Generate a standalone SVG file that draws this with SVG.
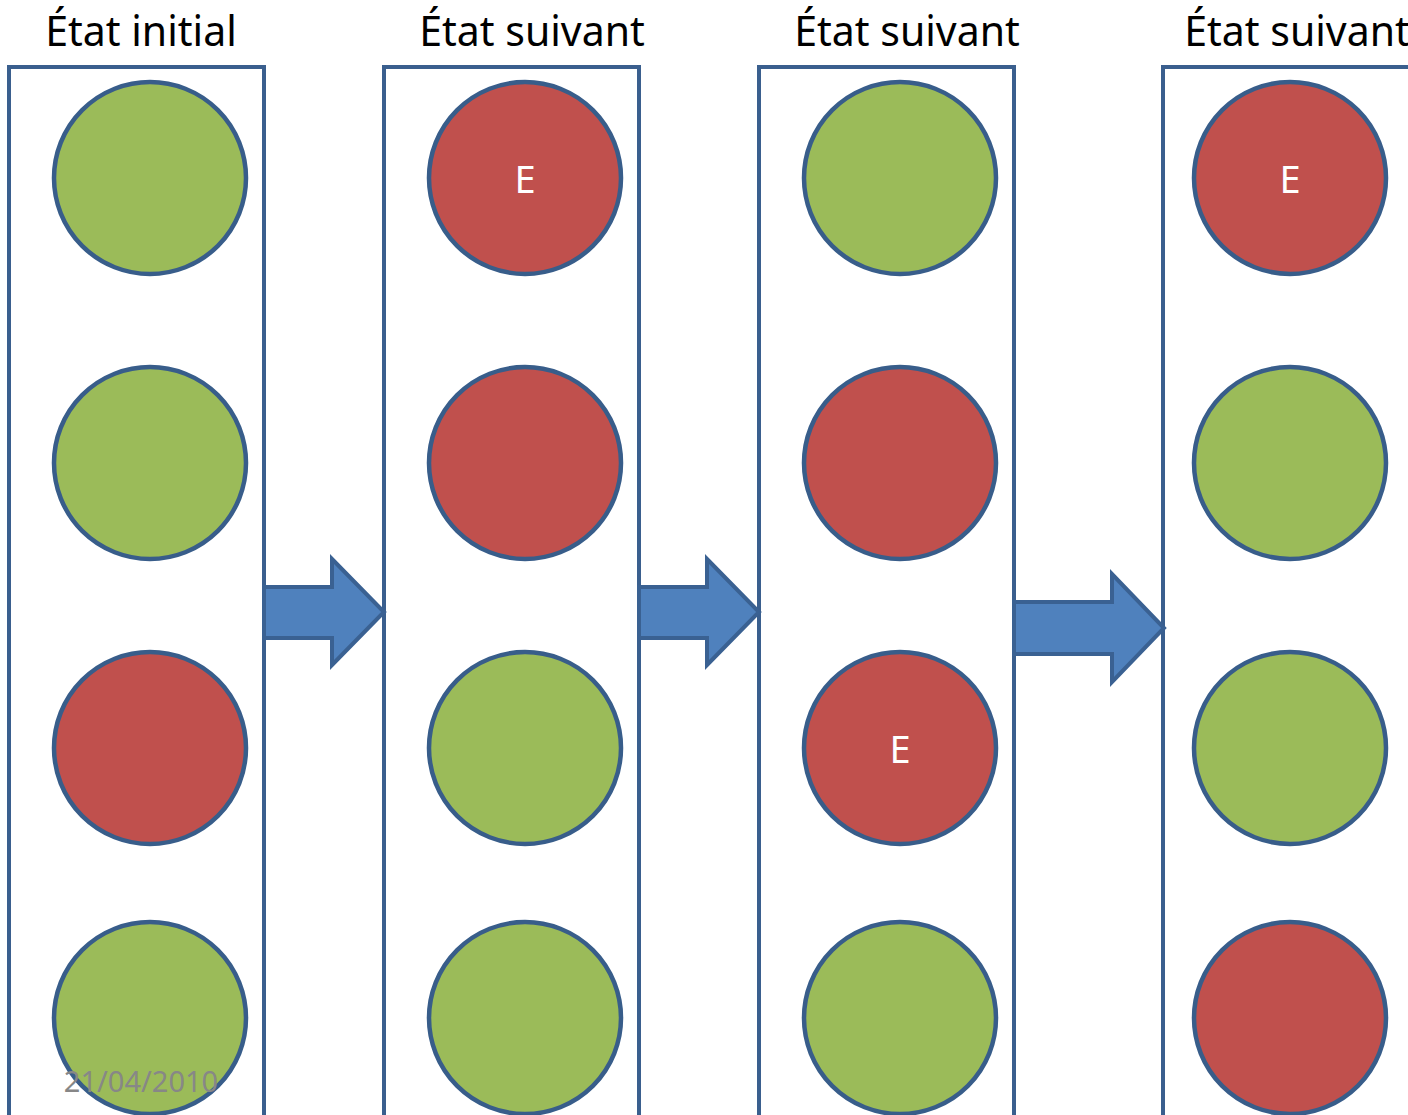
<svg xmlns="http://www.w3.org/2000/svg" width="1408" height="1115" viewBox="0 0 1408 1115">
<style>
.box{fill:#fff;stroke:#3A5F8E;stroke-width:4}
.g{fill:#9BBB59;stroke:#385D8A;stroke-width:4.5}
.r{fill:#C0504D;stroke:#385D8A;stroke-width:4.5}
.t{font-family:"Noto Sans","Open Sans",sans-serif;font-size:41px;fill:#000;text-anchor:middle}
.e{font-family:"Noto Sans","Open Sans",sans-serif;font-size:38px;fill:#fff;text-anchor:middle}
.arr{fill:#4F81BD;stroke:#3A6192;stroke-width:4;stroke-linejoin:miter}
.d{font-family:"Noto Sans","Open Sans",sans-serif;font-size:29px;fill:#878787;text-anchor:middle}
</style>
<rect width="1408" height="1115" fill="#fff"/>
<g id="col1">
<text class="t" x="141" y="46">État initial</text>
<rect class="box" x="9" y="67" width="255" height="1060"/>
<circle class="g" cx="150" cy="178" r="96"/>
<circle class="g" cx="150" cy="463" r="96"/>
<circle class="r" cx="150" cy="748" r="96"/>
<circle class="g" cx="150" cy="1018" r="96"/>
</g>
<g id="col2">
<text class="t" x="532" y="46">État suivant</text>
<rect class="box" x="384" y="67" width="255" height="1060"/>
<circle class="r" cx="525" cy="178" r="96"/>
<text class="e" x="525" y="193">E</text>
<circle class="r" cx="525" cy="463" r="96"/>
<circle class="g" cx="525" cy="748" r="96"/>
<circle class="g" cx="525" cy="1018" r="96"/>
</g>
<g id="col3">
<text class="t" x="907" y="46">État suivant</text>
<rect class="box" x="759" y="67" width="255" height="1060"/>
<circle class="g" cx="900" cy="178" r="96"/>
<circle class="r" cx="900" cy="463" r="96"/>
<circle class="r" cx="900" cy="748" r="96"/>
<text class="e" x="900" y="763">E</text>
<circle class="g" cx="900" cy="1018" r="96"/>
</g>
<g id="col4">
<text class="t" x="1297" y="46">État suivant</text>
<rect class="box" x="1163" y="67" width="300" height="1060"/>
<circle class="r" cx="1290" cy="178" r="96"/>
<text class="e" x="1290" y="193">E</text>
<circle class="g" cx="1290" cy="463" r="96"/>
<circle class="g" cx="1290" cy="748" r="96"/>
<circle class="r" cx="1290" cy="1018" r="96"/>
</g>
<g id="connectors">
<polygon class="arr" points="264,587 332,587 332,559 384,612 332,665 332,638 264,638"/>
<polygon class="arr" points="639,587 707,587 707,559 759,612 707,665 707,638 639,638"/>
<polygon class="arr" points="1014,602 1112,602 1112,574 1164,628 1112,682 1112,654 1014,654"/>
</g>
<text class="d" x="141" y="1092">21/04/2010</text>
</svg>
